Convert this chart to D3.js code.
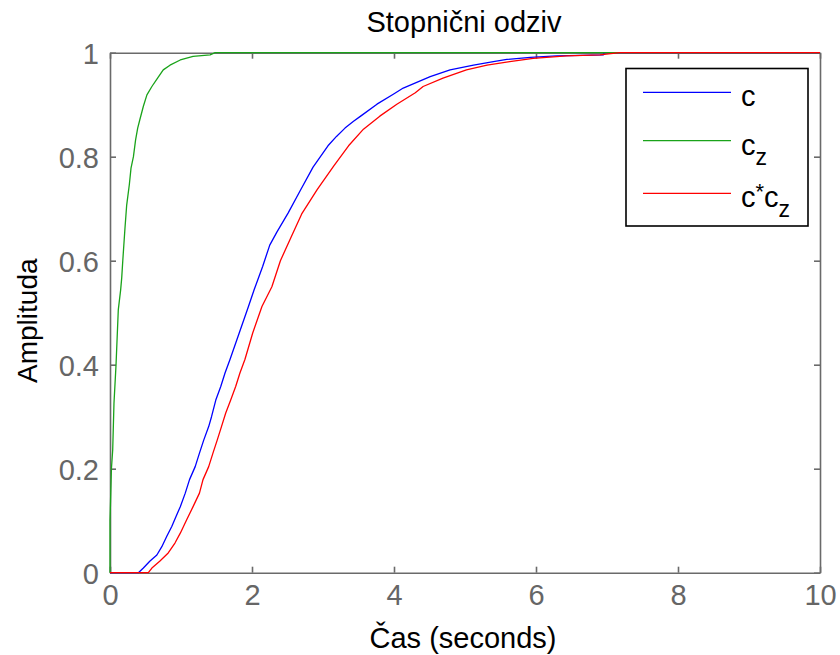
<!DOCTYPE html>
<html>
<head>
<meta charset="utf-8">
<script src="https://cdn.jsdelivr.net/npm/d3@7"></script>
<style>
  html, body { margin: 0; padding: 0; background: #fff; }
  svg { display: block; }
  text { font-family: "Liberation Sans", Arial, sans-serif; }
</style>
</head>
<body>
<svg id="chart" width="840" height="655"></svg>
<script>
// ---- data ----
const titleText = "Stopnični odziv";
const xLabelText = "Čas (seconds)";
const yLabelText = "Amplituda";
const xTicks = [0, 2, 4, 6, 8, 10];
const yTicks = [0, 0.2, 0.4, 0.6, 0.8, 1];
const yTickLabels = ["0", "0.2", "0.4", "0.6", "0.8", "1"];

// c (blue)
const seriesC = [
  [0,0],[0.40,0],[0.47,0.009],[0.56,0.022],[0.66,0.034],[0.73,0.05],[0.80,0.07],
  [0.87,0.089],[0.93,0.108],[0.99,0.127],[1.06,0.153],[1.12,0.179],[1.20,0.204],
  [1.26,0.23],[1.32,0.255],[1.39,0.281],[1.43,0.30],[1.49,0.332],[1.56,0.358],
  [1.62,0.384],[1.69,0.41],[1.82,0.461],[1.95,0.512],[2.03,0.544],[2.15,0.589],
  [2.25,0.63],[2.35,0.655],[2.51,0.692],[2.68,0.735],[2.86,0.78],[3.07,0.821],
  [3.19,0.839],[3.31,0.855],[3.43,0.868],[3.54,0.879],[3.76,0.901],[3.99,0.92],
  [4.13,0.932],[4.51,0.954],[4.79,0.967],[5.12,0.976],[5.40,0.983],[5.59,0.987],
  [5.92,0.991],[6.29,0.994],[6.95,0.996],[6.96,1],[10,1]
];
// c_z (green)
const seriesCz = [
  [0,0],[0,0.1],[0.02,0.2],[0.038,0.236],[0.056,0.326],[0.085,0.4],[0.117,0.506],
  [0.15,0.544],[0.165,0.567],[0.18,0.6],[0.211,0.663],[0.235,0.707],[0.272,0.746],
  [0.296,0.778],[0.33,0.8],[0.36,0.832],[0.39,0.855],[0.42,0.871],[0.47,0.897],
  [0.52,0.919],[0.59,0.935],[0.67,0.951],[0.75,0.967],[0.845,0.976],[0.99,0.986],
  [1.17,0.993],[1.41,0.996],[1.48,1],[10,1]
];
// c*c_z (red)
const seriesCCz = [
  [0,0],[0.54,0],[0.59,0.009],[0.70,0.022],[0.82,0.038],[0.915,0.057],[0.99,0.076],
  [1.08,0.102],[1.17,0.127],[1.26,0.153],[1.31,0.179],[1.39,0.204],[1.45,0.23],
  [1.51,0.255],[1.57,0.281],[1.63,0.307],[1.70,0.332],[1.77,0.358],[1.83,0.384],
  [1.90,0.41],[2.01,0.461],[2.14,0.512],[2.28,0.55],[2.40,0.6],[2.55,0.645],
  [2.70,0.69],[2.92,0.737],[3.15,0.782],[3.36,0.821],[3.57,0.853],[3.80,0.878],
  [4.04,0.901],[4.30,0.923],[4.41,0.935],[4.69,0.951],[5.02,0.967],[5.31,0.976],
  [5.63,0.983],[5.96,0.989],[6.43,0.994],[6.9,0.996],[7.18,1],[10,1]
];
const seriesNames = ["c", "c_z", "c*c_z"];
const seriesColors = ["#0000ff", "#1aa31a", "#ff0000"];

// ---- layout ----
const svg = d3.select("#chart");
const mLeft = 110, mRight = 820, mTop = 52.7, mBottom = 572.7;
const x = d3.scaleLinear().domain([0, 10]).range([mLeft, mRight]);
const y = d3.scaleLinear().domain([0, 1]).range([mBottom, mTop]);
const axisColor = "#6a6a6a";
const fontSize = 29;

// axes box
const g = svg.append("g");
const axB = g.append("g").attr("transform", `translate(0,${mBottom})`)
  .call(d3.axisBottom(x).tickValues(xTicks).tickSizeInner(-6).tickSizeOuter(0).tickPadding(12)
    .tickFormat(d3.format("d")));
const axT = g.append("g").attr("transform", `translate(0,${mTop})`)
  .call(d3.axisTop(x).tickValues(xTicks).tickSizeInner(-6).tickSizeOuter(0).tickFormat(""));
const axL = g.append("g").attr("transform", `translate(${mLeft},0)`)
  .call(d3.axisLeft(y).tickValues(yTicks).tickSizeInner(-6).tickSizeOuter(0).tickPadding(11)
    .tickFormat((d, i) => yTickLabels[i]));
const axR = g.append("g").attr("transform", `translate(${mRight},0)`)
  .call(d3.axisRight(y).tickValues(yTicks).tickSizeInner(-6).tickSizeOuter(0).tickFormat(""));

[axB, axT, axL, axR].forEach(a => {
  a.select(".domain").attr("stroke", axisColor).attr("stroke-width", 1.6);
  a.selectAll(".tick line").attr("stroke", axisColor).attr("stroke-width", 1.6);
  a.selectAll(".tick text").attr("fill", "#666").attr("font-size", fontSize)
    .attr("font-family", "Liberation Sans, Arial, sans-serif");
});
axL.selectAll(".tick text").attr("dy", "0.36em");
axB.selectAll(".tick text").attr("dy", "0.71em");

// curves
const line = d3.line().x(d => x(d[0])).y(d => y(d[1]));
const allSeries = [seriesC, seriesCz, seriesCCz];
allSeries.forEach((s, i) => {
  svg.append("path").datum(s)
    .attr("d", line)
    .attr("fill", "none")
    .attr("stroke", seriesColors[i])
    .attr("stroke-width", 1.3)
    .attr("stroke-linejoin", "round");
});

// title and labels
svg.append("text").attr("x", 464).attr("y", 32).attr("text-anchor", "middle")
  .attr("font-size", fontSize).attr("fill", "#000").text(titleText);
svg.append("text").attr("x", 463).attr("y", 648).attr("text-anchor", "middle")
  .attr("font-size", fontSize).attr("fill", "#000").text(xLabelText);
svg.append("text").attr("transform", `translate(37,${(mTop + mBottom) / 2 + 8}) rotate(-90)`)
  .attr("text-anchor", "middle").attr("font-size", 28).attr("fill", "#000").text(yLabelText);

// legend
const lg = svg.append("g");
lg.append("rect").attr("x", 626).attr("y", 68.5).attr("width", 182).attr("height", 157.5)
  .attr("fill", "#fff").attr("stroke", "#000").attr("stroke-width", 1.6);
const legendY = [92.3, 140.7, 193.3];
seriesNames.forEach((name, i) => {
  lg.append("line").attr("x1", 643).attr("x2", 731)
    .attr("y1", legendY[i]).attr("y2", legendY[i])
    .attr("stroke", seriesColors[i]).attr("stroke-width", 1.3);
  const t = lg.append("text").attr("x", 741).attr("y", legendY[i] + 14)
    .attr("font-size", fontSize).attr("fill", "#000");
  if (name === "c") {
    t.text("c");
  } else if (name === "c_z") {
    t.append("tspan").text("c");
    t.append("tspan").attr("dy", 10).attr("font-size", 23).text("z");
  } else {
    t.append("tspan").text("c");
    t.append("tspan").attr("dy", -8).attr("font-size", 22).text("*");
    t.append("tspan").attr("dy", 8).text("c");
    t.append("tspan").attr("dy", 10).attr("font-size", 23).text("z");
  }
});
</script>
</body>
</html>
